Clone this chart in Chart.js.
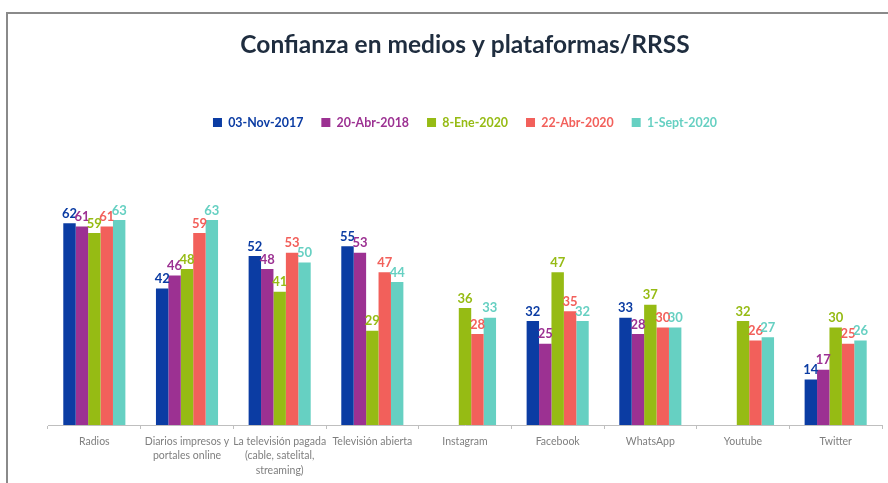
<!DOCTYPE html>
<html>
<head>
<meta charset="utf-8">
<script src="https://cdn.jsdelivr.net/npm/chart.js@4/dist/chart.umd.min.js"></script>
<style>
  html, body { margin: 0; padding: 0; background: #fff; }
  #wrap { position: relative; width: 888px; height: 483px; }
  #frame { position: absolute; left: 6px; top: 12px; right: -4px; bottom: -4px;
           border-left: 2px solid #8a8a8a; border-top: 2px solid #8a8a8a; }
  canvas { position: absolute; left: 0; top: 0; }
</style>
</head>
<body>
<div id="wrap">
  <div id="frame"></div>
  <canvas id="chart" width="888" height="483"></canvas>
</div>
<script>
const categories = [
  'Radios',
  ['Diarios impresos y', 'portales online'],
  ['La televisión pagada', '(cable, satelital,', 'streaming)'],
  'Televisión abierta',
  'Instagram',
  'Facebook',
  'WhatsApp',
  'Youtube',
  'Twitter'
];

const seriesNames = ['03-Nov-2017', '20-Abr-2018', '8-Ene-2020', '22-Abr-2020', '1-Sept-2020'];
const seriesColors = ['#0b3ca3', '#9c3192', '#96bb14', '#f2605b', '#66d0c2'];

const nov2017 = [62, 42, 52, 55, null, 32, 33, null, 14];
const abr2018 = [61, 46, 48, 53, null, 25, 28, null, 17];
const ene2020 = [59, 48, 41, 29, 36, 47, 37, 32, 30];
const abr2020 = [61, 59, 53, 47, 28, 35, 30, 26, 25];
const sep2020 = [63, 63, 50, 44, 33, 32, 30, 27, 26];

const seriesValues = [nov2017, abr2018, ene2020, abr2020, sep2020];

const FONT = 'Lato, "Open Sans", sans-serif';

// value labels above each bar, in the series colour
const barLabels = {
  id: 'barLabels',
  afterDatasetsDraw(chart) {
    const ctx = chart.ctx;
    ctx.save();
    ctx.font = 'bold 13px ' + FONT;
    ctx.textAlign = 'center';
    ctx.textBaseline = 'bottom';
    chart.data.datasets.forEach((ds, i) => {
      const meta = chart.getDatasetMeta(i);
      ctx.fillStyle = ds.backgroundColor;
      meta.data.forEach((bar, j) => {
        const v = ds.data[j];
        if (v === null || v === undefined) return;
        ctx.fillText(String(v), bar.x, bar.y - 3);
      });
    });
    ctx.restore();
  }
};

new Chart(document.getElementById('chart'), {
  type: 'bar',
  data: {
    labels: categories,
    datasets: seriesNames.map((name, i) => ({
      label: name,
      data: seriesValues[i],
      backgroundColor: seriesColors[i],
      borderWidth: 0,
      categoryPercentage: 0.67,
      barPercentage: 1.0
    }))
  },
  options: {
    responsive: false,
    animation: false,
    layout: { padding: { left: 48, right: 6, top: 0, bottom: 0 } },
    plugins: {
      title: {
        display: true,
        text: 'Confianza en medios y plataformas/RRSS',
        color: '#1f2d3f',
        font: { family: FONT, size: 24.5, weight: 'bold' },
        padding: { top: 30, bottom: 39 }
      },
      legend: {
        position: 'top',
        labels: {
          boxWidth: 9,
          boxHeight: 9,
          padding: 18,
          font: { family: FONT, size: 12.4, weight: 'bold' },
          generateLabels(chart) {
            return chart.data.datasets.map((ds, i) => ({
              text: ds.label,
              fillStyle: ds.backgroundColor,
              strokeStyle: ds.backgroundColor,
              fontColor: ds.backgroundColor,
              lineWidth: 0,
              datasetIndex: i,
              hidden: false
            }));
          }
        }
      },
      tooltip: { enabled: false }
    },
    scales: {
      x: {
        grid: {
          offset: true,
          drawOnChartArea: false,
          drawTicks: true,
          tickLength: 4,
          color: '#bfbfbf'
        },
        border: { display: true, color: '#bfbfbf', width: 1 },
        ticks: {
          color: '#7f7f7f',
          font: { family: FONT, size: 10.5, lineHeight: 1.4 },
          padding: 5,
          maxRotation: 0,
          autoSkip: false
        },
        afterFit(scale) { scale.height = 58; }
      },
      y: {
        display: false,
        min: 0,
        max: 88
      }
    }
  },
  plugins: [barLabels]
});
</script>
</body>
</html>
